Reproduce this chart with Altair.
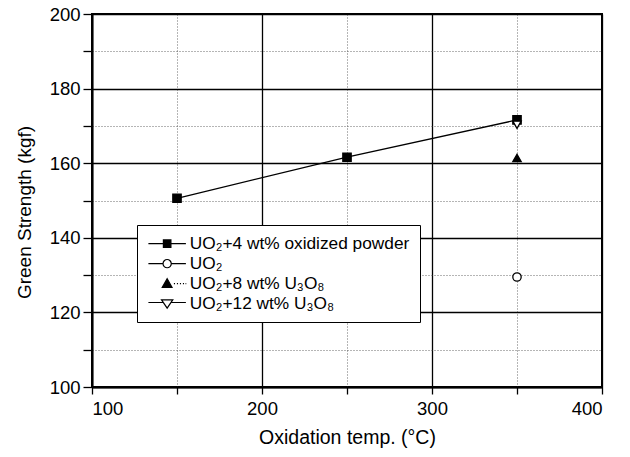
import altair as alt
import pandas as pd

# ---- data ----
series_names = ["UO₂+4 wt% oxidized powder", "UO₂", "UO₂+8 wt% U₃O₈", "UO₂+12 wt% U₃O₈"]
temps_ox = [150, 250, 350]
strength_ox = [150.6, 161.6, 171.6]
temps_uo2 = [350]
strength_uo2 = [129.5]
temps_8 = [350]
strength_8 = [161.4]
temps_12 = [350]
strength_12 = [170.3]

x_tick_values = [100, 150, 200, 250, 300, 350, 400]
y_tick_values = [100, 110, 120, 130, 140, 150, 160, 170, 180, 190, 200]

rows = []
for name, xs, ys in zip(series_names,
                        [temps_ox, temps_uo2, temps_8, temps_12],
                        [strength_ox, strength_uo2, strength_8, strength_12]):
    for xv, yv in zip(xs, ys):
        rows.append({"series": name, "temp": xv, "strength": yv})
df = pd.DataFrame(rows)

FONT = "Liberation Sans"

x_enc = alt.X("temp:Q", title="Oxidation temp. (°C)",
              scale=alt.Scale(domain=[100, 400], nice=False, zero=False),
              axis=alt.Axis(values=x_tick_values,
                            labelExpr="datum.value % 100 === 0 ? datum.label : ''",
                            grid=True,
                            gridColor={"condition": {"test": "datum.value % 100 === 0", "value": "black"}, "value": "#444444"},
                            gridDash={"condition": {"test": "datum.value % 100 === 0", "value": []}, "value": [1, 2]},
                            gridWidth={"condition": {"test": "datum.value % 100 === 0", "value": 1.3}, "value": 0.8},
                            domainColor="black", domainWidth=2,
                            tickColor="black", tickSize=7, tickWidth=1.3,
                            labelFont=FONT, labelFontSize=18.5, labelColor="black", labelPadding=5,
                            titleFont=FONT, titleFontSize=19.5, titleFontWeight="normal",
                            titleColor="black", titlePadding=11))
y_enc = alt.Y("strength:Q", title="Green Strength (kgf)",
              scale=alt.Scale(domain=[100, 200], nice=False, zero=False),
              axis=alt.Axis(values=y_tick_values,
                            labelExpr="datum.value % 20 === 0 ? datum.label : ''",
                            grid=True,
                            gridColor={"condition": {"test": "datum.value % 20 === 0", "value": "black"}, "value": "#444444"},
                            gridDash={"condition": {"test": "datum.value % 20 === 0", "value": []}, "value": [1, 2]},
                            gridWidth={"condition": {"test": "datum.value % 20 === 0", "value": 1.3}, "value": 0.8},
                            domainColor="black", domainWidth=2,
                            tickColor="black", tickSize=9, tickWidth=1.3,
                            labelFont=FONT, labelFontSize=18.5, labelColor="black", labelPadding=3,
                            titleFont=FONT, titleFontSize=19, titleFontWeight="normal",
                            titleColor="black", titleX=-62, titleY=198,
                            titleBaseline="alphabetic", titleAlign="center"))

base = alt.Chart(df)

line = base.transform_filter(
    alt.datum.series == series_names[0]
).mark_line(color="black", strokeWidth=1.3).encode(x=x_enc, y=y_enc)

points = base.mark_point(filled=False, size=70, stroke="black", strokeWidth=1.3, opacity=1).encode(
    x=x_enc, y=y_enc,
    shape=alt.Shape("series:N", legend=None,
                    scale=alt.Scale(domain=series_names,
                                    range=["square", "circle", "triangle-up", "triangle-down"])),
    fill=alt.Fill("series:N", legend=None,
                  scale=alt.Scale(domain=series_names,
                                  range=["black", "white", "black", "white"])),
)

# legend symbols: line + marker glyphs
sym_square = "M-2.5,0H-0.5M0.5,0H2.5M-0.5,-0.5H0.5V0.5H-0.5Z"
sym_circle = "M-2.5,0H-0.55M0.55,0H2.5M0.55,0A0.55,0.55 0 1,1 -0.55,0A0.55,0.55 0 1,1 0.55,0Z"
sym_tri_up = ("M-0.65,0.5L0,-0.65L0.65,0.5Z"
              "M0.9,0H1.05M1.3,0H1.45M1.7,0H1.85M2.1,0H2.25M2.45,0H2.55")
sym_tri_down = "M-2.5,-0.15H-0.6M0.6,-0.15H2.5M-0.75,-0.5L0.75,-0.5L0,0.6Z"

LEG = dict(title=None, orient="none", legendX=45, legendY=211)

legend_layer = base.transform_filter("false").mark_point(
    filled=False, stroke="black", strokeWidth=1.2, opacity=1).encode(
    shape=alt.Shape("series:N",
                    scale=alt.Scale(domain=series_names,
                                    range=[sym_square, sym_circle, sym_tri_up, sym_tri_down]),
                    legend=alt.Legend(
                        fillColor="white", strokeColor="black", padding=10,
                        symbolSize=225, symbolStrokeColor="black", symbolStrokeWidth=1.2,
                        symbolOffset=11.5, labelOffset=14, rowPadding=2,
                        labelFont=FONT, labelFontSize=17.3, labelColor="black",
                        labelLimit=400, **LEG)),
    fill=alt.Fill("series:N",
                  scale=alt.Scale(domain=series_names,
                                  range=["black", "white", "black", "white"]),
                  legend=alt.Legend(**LEG)),
    stroke=alt.Stroke("series:N",
                      scale=alt.Scale(domain=series_names,
                                      range=["black", "black", "black", "black"]),
                      legend=alt.Legend(**LEG)),
)

chart = alt.layer(line, points, legend_layer).resolve_scale(
    shape="independent", fill="independent", stroke="independent"
).properties(
    width=510, height=373,
    padding={"left": 92, "top": 14, "right": 28, "bottom": 70},
    autosize=alt.AutoSizeParams(type="none"),
    background="white",
).configure_view(stroke="black", strokeWidth=2)

chart.save("out.html", embed_options={"renderer": "svg", "actions": False})
